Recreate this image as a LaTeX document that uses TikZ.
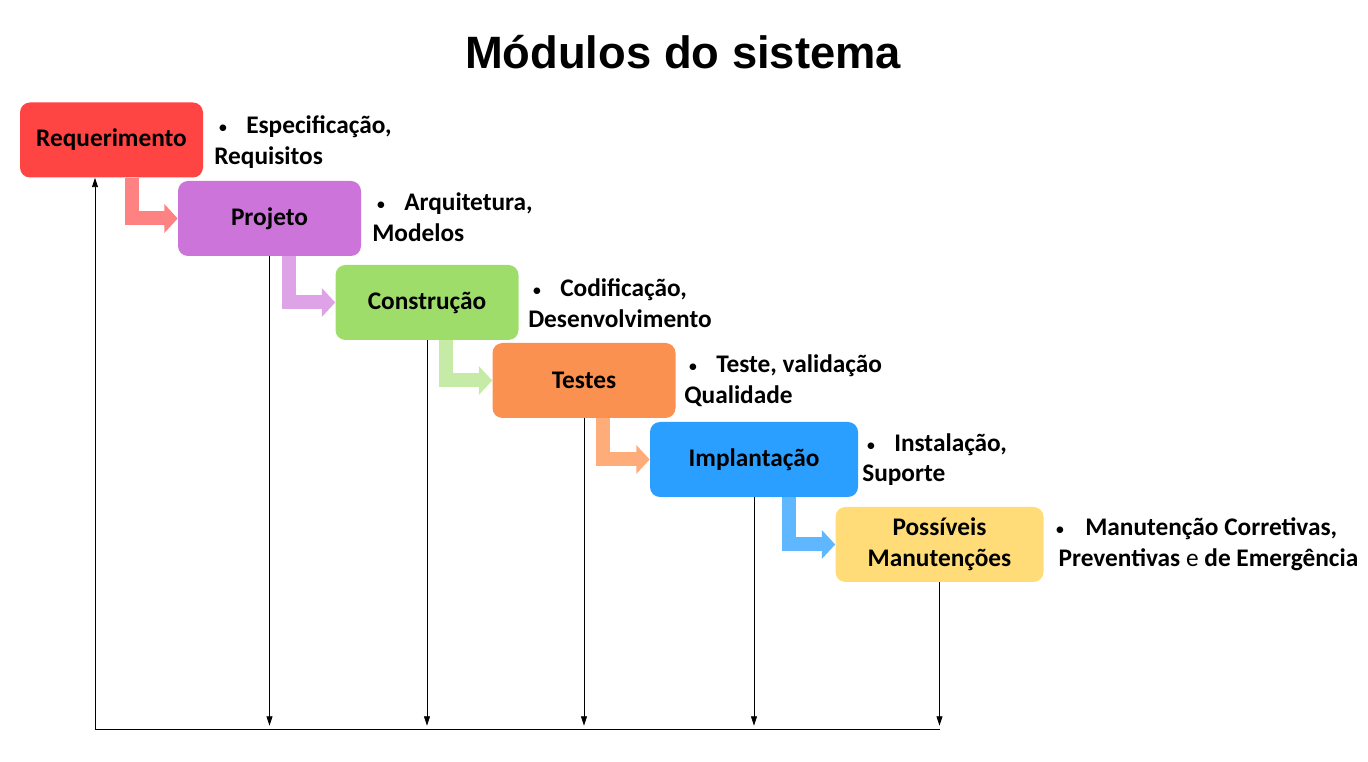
\documentclass[tikz,border=0pt]{standalone}
\usepackage{fontspec}
\setmainfont{Carlito}
\newfontfamily\titlefont{Liberation Sans}
\usetikzlibrary{arrows.meta}

\definecolor{cReq}{HTML}{FF4444}
\definecolor{cProj}{HTML}{CC74DA}
\definecolor{cCons}{HTML}{9FDD6B}
\definecolor{cTest}{HTML}{FB9150}
\definecolor{cImpl}{HTML}{2A9FFF}
\definecolor{cManu}{HTML}{FFDC78}
\definecolor{cReqL}{HTML}{FF8282}
\definecolor{cProjL}{HTML}{DDA3E6}
\definecolor{cConsL}{HTML}{C6EBA6}
\definecolor{cTestL}{HTML}{FDAC7A}
\definecolor{cImplL}{HTML}{5FB8FF}

\newcommand{\etbullet}{\hspace*{3pt}\makebox[21pt][l]{\mdseries\fontsize{14}{14}\selectfont\textbullet}}

\tikzset{
    etapa/.style={rounded corners=7.5pt, minimum width=137.25pt, minimum height=56.25pt,
        align=center, font=\fontsize{19}{23}\selectfont\bfseries},
    desc/.style={anchor=west, align=left, inner sep=0pt, font=\fontsize{19}{23}\selectfont\bfseries},
    fluxo/.style={line width=10.5pt, -{Triangle[length=10pt,width=21pt]}},
    retorno/.style={line width=0.6pt, -{Triangle[length=7pt,width=4.5pt]}, shorten >=2.5pt},
}

\begin{document}
\begin{tikzpicture}[x=0.75pt, y=-0.75pt]
    \useasboundingbox (0,0) rectangle (1368,762);
    \node[font=\titlefont\fontsize{34}{40}\selectfont\bfseries] (titulo) at (683,52) {Módulos do sistema};

    \node[etapa, fill=cReq] (n1) at (111.5,140) {Requerimento};
    \node[etapa, fill=cProj] (n2) at (269.5,218.5) {Projeto};
    \node[etapa, fill=cCons] (n3) at (427,302.5) {Construção};
    \node[etapa, fill=cTest] (n4) at (584,380.5) {Testes};
    \node[etapa, fill=cImpl, minimum width=156pt] (n5) at (754,459.5) {Implantação};
    \node[etapa, fill=cManu, minimum width=156pt] (n6) at (939.5,544.5) {Possíveis\\Manutenções};

    \node[desc] (l1) at (214,142) {\etbullet Especificação,\\Requisitos};
    \node[desc] (l2) at (372,217.5) {\etbullet Arquitetura,\\Modelos};
    \node[desc] (l3) at (528,303.5) {\etbullet Codificação,\\Desenvolvimento};
    \node[desc] (l4) at (684,380.5) {\etbullet Teste, validação\\Qualidade};
    \node[desc] (l5) at (862,459.5) {\etbullet Instalação,\\Suporte};
    \node[desc] (l6) at (1055,544) {\makebox[22.5pt][l]{\mdseries\fontsize{14}{14}\selectfont\textbullet}Manutenção Corretivas,\\\hspace*{2.5pt}Preventivas \textmd{e} de Emergência};

    % setas entre as etapas
    \draw[fluxo, cReqL] ([xshift=15.4pt]n1.south) |- (n2.west);
    \draw[fluxo, cProjL] ([xshift=14.6pt]n2.south) |- (n3.west);
    \draw[fluxo, cConsL] ([xshift=14.3pt]n3.south) |- (n4.west);
    \draw[fluxo, cTestL] ([xshift=14.3pt]n4.south) |- (n5.west);
    \draw[fluxo, cImplL] ([xshift=26pt]n5.south) |- (n6.west);

    % linhas de retorno
    \coordinate (b) at (95,729);
    \draw[retorno] (n2.south) -- (n2.south |- b);
    \draw[retorno] (n3.south) -- (n3.south |- b);
    \draw[retorno] (n4.south) -- (n4.south |- b);
    \draw[retorno] (n5.south) -- (n5.south |- b);
    \draw[retorno] (n6.south) -- (n6.south |- b);
    \draw[line width=0.6pt] (b) -- (b -| n6.south);
    \draw[retorno, shorten >=0pt] (b) -- (b |- n1.south);
\end{tikzpicture}
\end{document}
